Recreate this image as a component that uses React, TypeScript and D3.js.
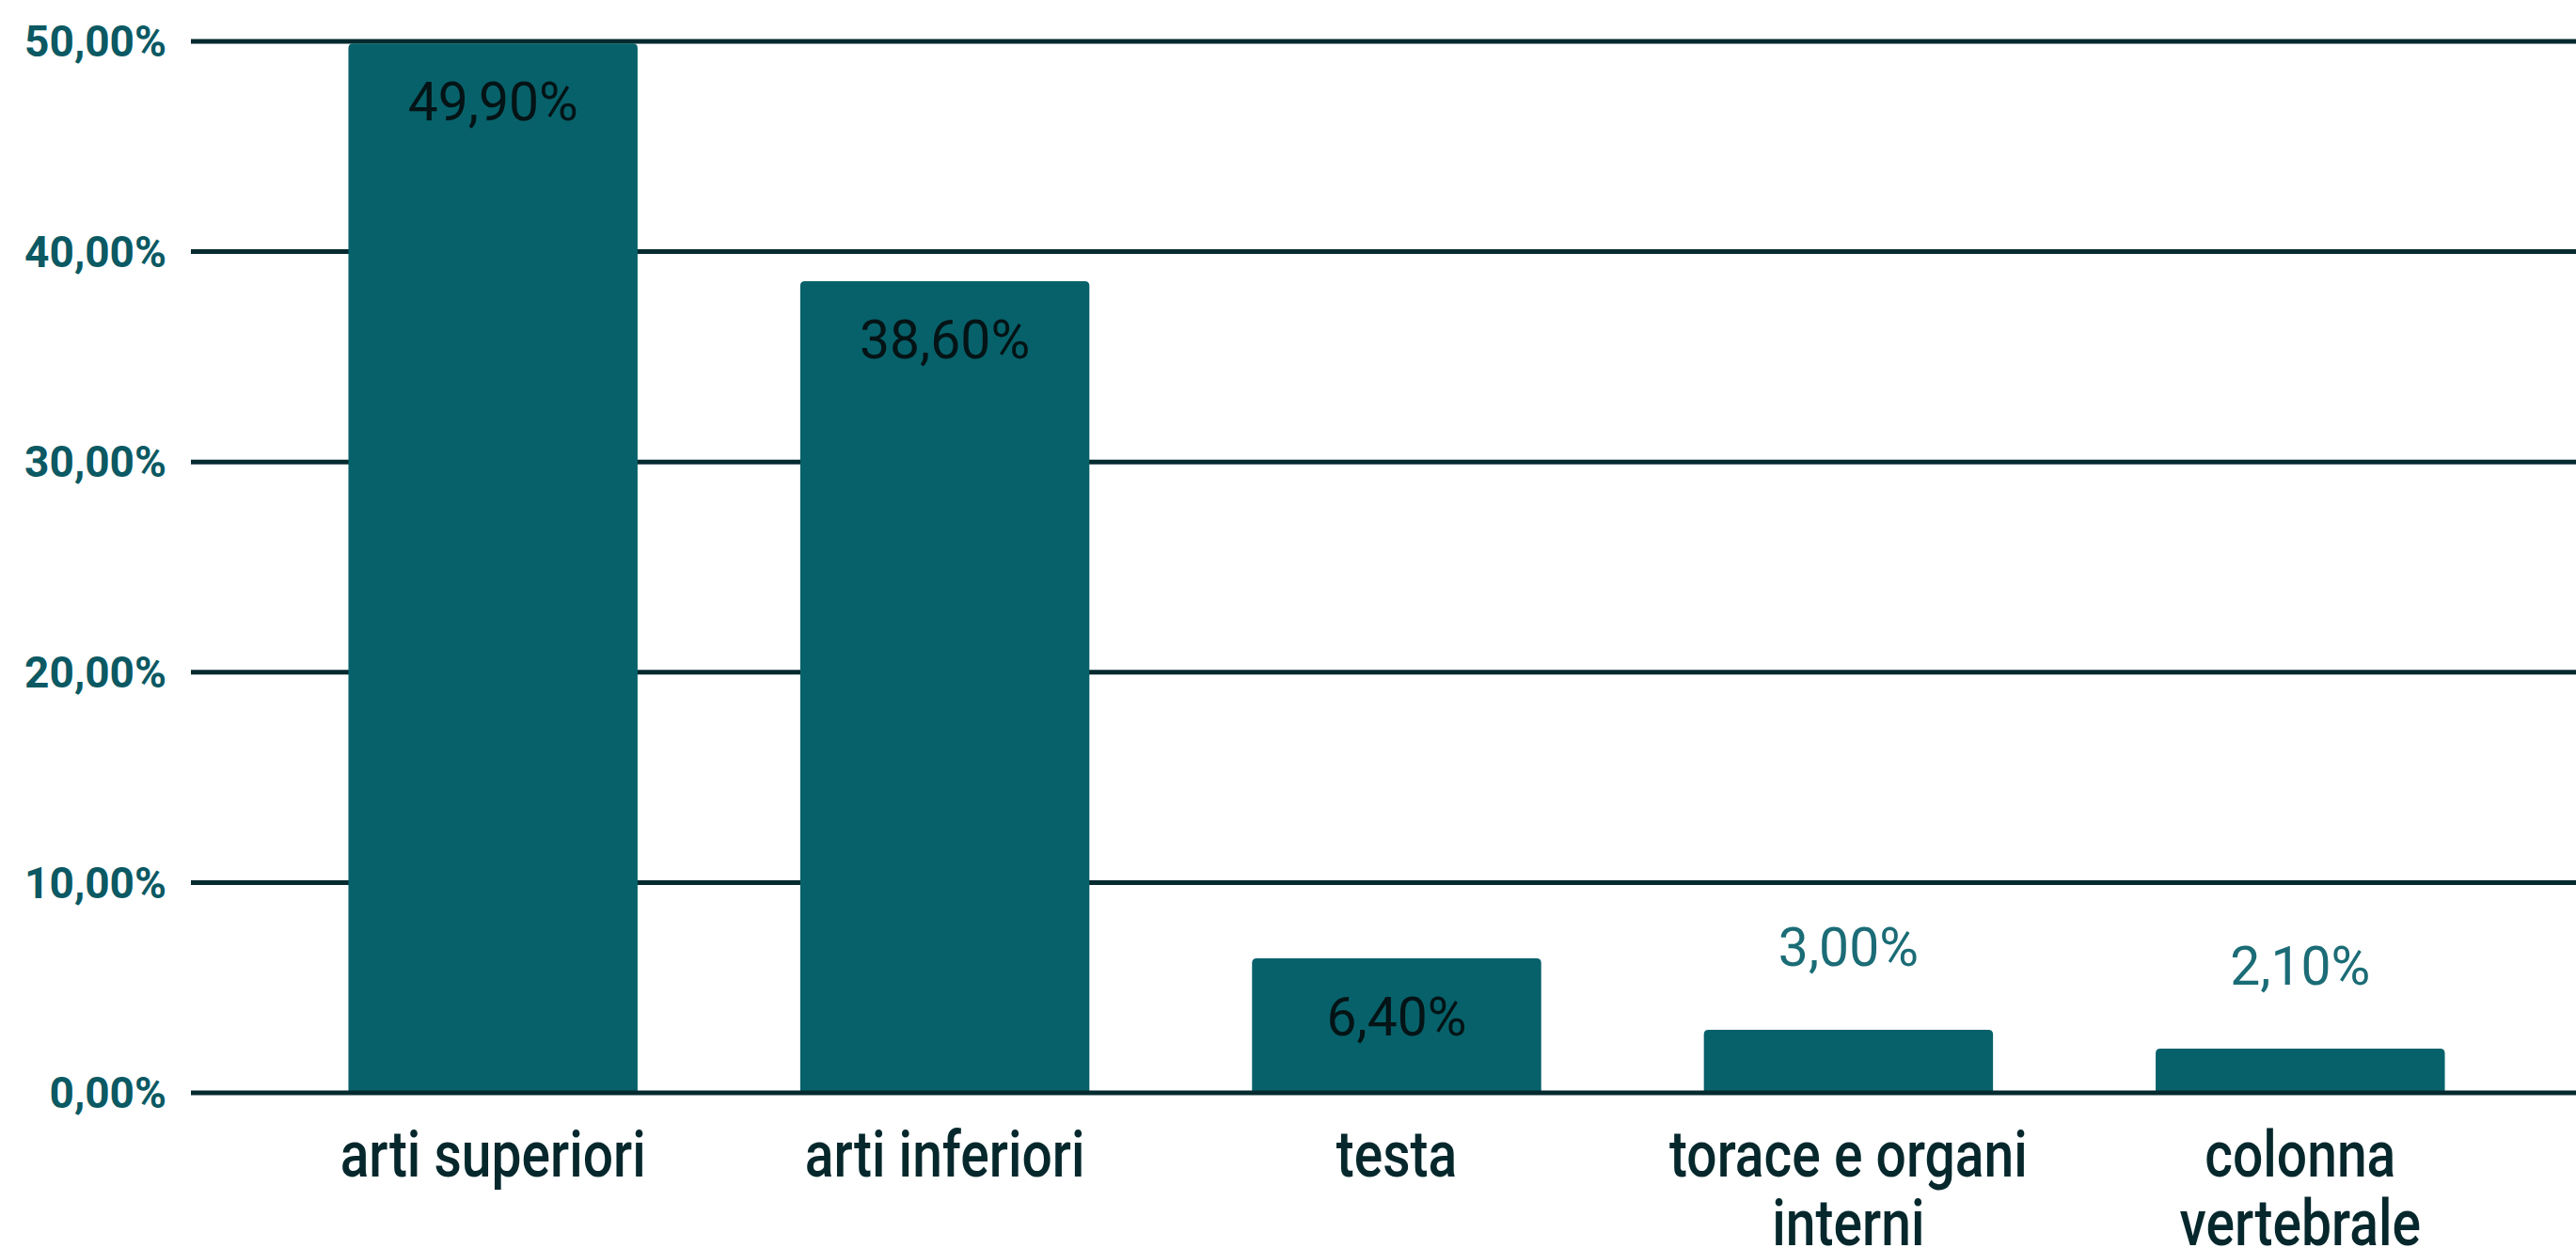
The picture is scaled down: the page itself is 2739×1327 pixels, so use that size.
import React from "react";
import * as d3 from "d3";

// categories and values (percent)
const categories = [
  ["arti superiori"],
  ["arti inferiori"],
  ["testa"],
  ["torace e organi", "interni"],
  ["colonna", "vertebrale"],
];
const values = [49.9, 38.6, 6.4, 3.0, 2.1];
const yTicks = [0, 10, 20, 30, 40, 50];

const W = 2739;
const H = 1327;
const margin = { top: 44, right: 0, bottom: 165, left: 203 };

const barColor = "#07616a";
const gridColor = "#052a2f";
const tickColor = "#0b5963";

const fmt = (v: number) => v.toFixed(2).replace(".", ",") + "%";

export default function App() {
  const x = d3
    .scaleBand<number>()
    .domain(d3.range(values.length))
    .range([284, 2686])
    .paddingInner(0.36)
    .paddingOuter(0.18);
  const y = d3.scaleLinear().domain([0, 50]).range([H - margin.bottom, margin.top]);

  const bw = x.bandwidth();
  const r = 5;
  const barPath = (i: number) => {
    const x0 = x(i)!;
    const y0 = y(values[i]);
    const yb = y(0);
    const p = d3.path();
    p.moveTo(x0, yb);
    p.lineTo(x0, y0 + r);
    p.quadraticCurveTo(x0, y0, x0 + r, y0);
    p.lineTo(x0 + bw - r, y0);
    p.quadraticCurveTo(x0 + bw, y0, x0 + bw, y0 + r);
    p.lineTo(x0 + bw, yb);
    p.closePath();
    return p.toString();
  };

  return (
    <svg
      width={W}
      height={H}
      style={{ position: "absolute", left: 0, top: 0, background: "#fff" }}
      fontFamily="Roboto, sans-serif"
    >
      {/* grid + y labels */}
      {yTicks.map((t) => (
        <g key={t}>
          {t !== 0 && (
            <line x1={margin.left} x2={W} y1={y(t)} y2={y(t)} stroke={gridColor} strokeWidth={5} />
          )}
          <text
            x={177}
            y={y(t)}
            dy="0.35em"
            textAnchor="end"
            fontSize={46}
            fontWeight={700}
            fill={tickColor}
          >
            {fmt(t)}
          </text>
        </g>
      ))}

      {/* bars */}
      {values.map((v, i) => (
        <path key={i} d={barPath(i)} fill={barColor} />
      ))}

      {/* baseline */}
      <line x1={margin.left} x2={W} y1={y(0)} y2={y(0)} stroke={gridColor} strokeWidth={5} />

      {/* value labels */}
      {values.map((v, i) => {
        const inside = v > 5;
        const cx = x(i)! + bw / 2;
        return (
          <text
            key={i}
            x={cx}
            y={inside ? y(v) + 62 : y(v) - 88}
            dy="0.35em"
            textAnchor="middle"
            fontSize={57}
            fill={inside ? "#041315" : "#1b6c76"}
          >
            {fmt(v)}
          </text>
        );
      })}

      {/* category labels */}
      {categories.map((lines, i) => (
        <text
          key={i}
          transform={`translate(${x(i)! + bw / 2},1251) scale(1,1.2)`}
          textAnchor="middle"
          fontSize={57}
          fontWeight={500}
          fill="#06282d"
        >
          {lines.map((l, j) => (
            <tspan key={j} x={0} y={j * 61}>
              {l}
            </tspan>
          ))}
        </text>
      ))}
    </svg>
  );
}
